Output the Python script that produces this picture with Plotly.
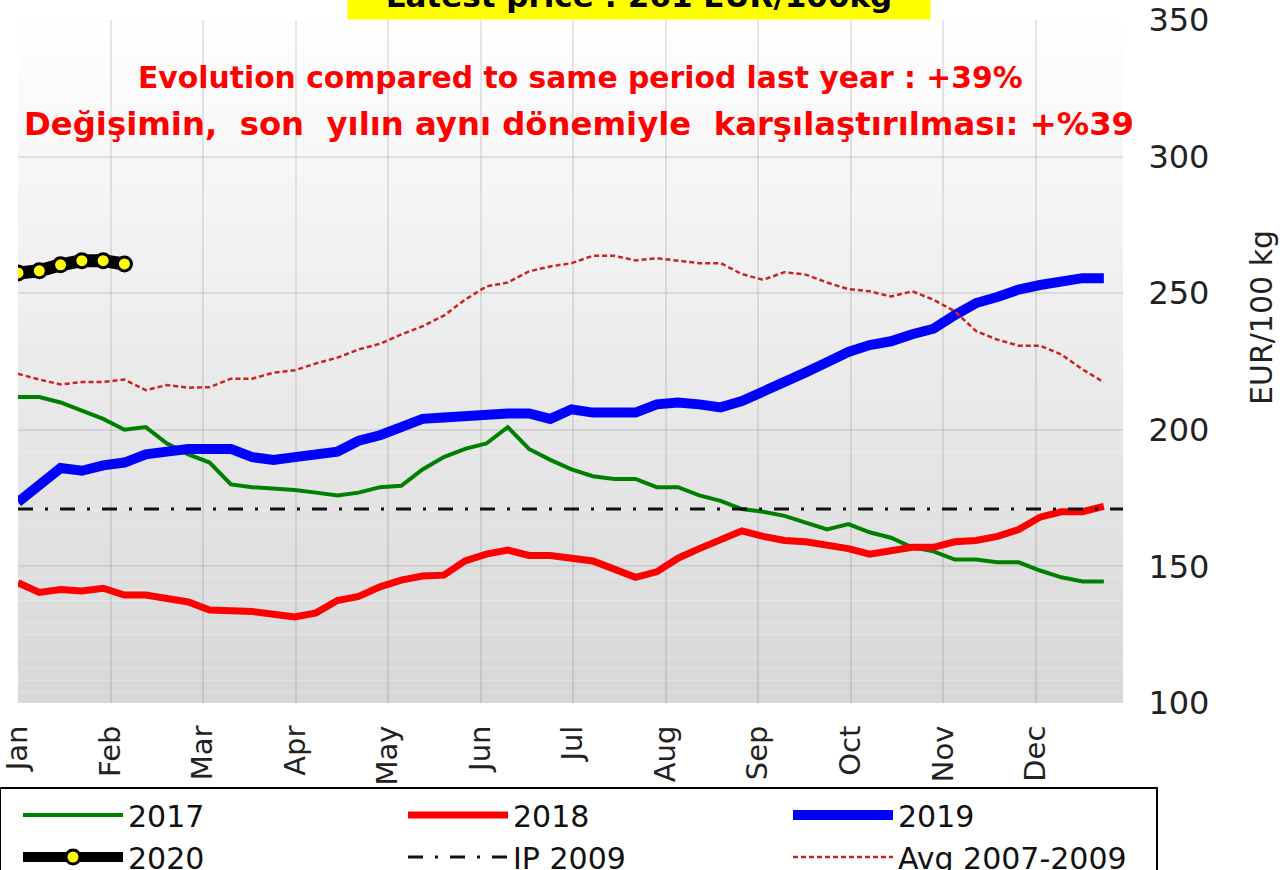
import plotly.graph_objects as go

# ---------------- data ----------------
weeks = list(range(1, 53))
month_labels = ["Jan", "Feb", "Mar", "Apr", "May", "Jun",
                "Jul", "Aug", "Sep", "Oct", "Nov", "Dec"]
month_ticks = [1, 5.35, 9.69, 14.04, 18.38, 22.73, 27.07, 31.42, 35.76, 40.11, 44.45, 48.8]
y_ticks = [100, 150, 200, 250, 300, 350]

s2017 = [212, 212, 210, 207, 204, 200, 201, 195, 191, 188, 180, 179, 178.5,
         178, 177, 176, 177, 179, 179.5, 185.5, 190, 193, 195, 201, 193, 189,
         185.5, 183, 182, 182, 179, 179, 176, 174, 171, 170, 168.5, 166, 163.5,
         165.5, 162.5, 160.5, 157, 155.5, 152.5, 152.5, 151.5, 151.5, 148.5, 146, 144.5, 144.5]
s2018 = [144, 140.5, 141.5, 141, 142, 139.5, 139.5, 138, 137, 134, 134, 133.5, 132.5,
         131.5, 133, 137.5, 139, 142.5, 145, 146.5, 146.8, 152, 154.5, 156, 154, 154,
         153, 152, 149, 146, 148, 153, 156.5, 159.5, 163, 161, 159.5, 159, 158,
         156.5, 154.5, 156, 157, 157, 159, 159.5, 161, 163.5, 168, 170, 170, 172]
s2019 = [173.5, 180, 186, 185, 187, 188, 191, 192, 193, 193, 193, 190, 189,
         190, 191, 192, 196, 198, 201, 204, 204.5, 205.3, 206, 206, 206, 204,
         207.5, 206.3, 206.3, 206.3, 209.3, 210, 209.3, 208.2, 210.5, 213.8, 217, 221, 224.7,
         228.5, 231, 232.4, 235, 237, 242, 246.4, 248.6, 251.3, 253, 254, 255.5, 255.5]
s2020 = [257.4, 258.2, 260.4, 261.9, 261.9, 260.7]
ip2009 = 171
avg0709 = [220.5, 218.4, 216.6, 217.5, 217.5, 218.4, 214.5, 216.4, 215.4, 215.6, 218.7, 218.7, 220.9,
           221.8, 224.3, 226.4, 229.4, 231.5, 234.9, 237.9, 241.8, 247.6, 252.5, 253.9, 258, 259.8,
           261, 263.7, 263.7, 262, 262.8, 262, 261, 261, 257, 254.9, 257.7, 256.8, 253.9,
           251.5, 250.7, 248.8, 250.7, 247.6, 243.4, 236.1, 233, 230.8, 230.8, 227.6, 222.1, 217.4]

x_range = [1, 52.9]
y_range = [100, 350]

# ---------------- figure ----------------
fig = go.Figure()
fig.add_trace(go.Scatter(x=weeks, y=s2017, name="2017", mode="lines", legendrank=1,
                         line=dict(color="#008000", width=4)))
fig.add_trace(go.Scatter(x=weeks, y=s2018, name="2018", mode="lines", legendrank=2,
                         line=dict(color="#ff0000", width=7)))
fig.add_trace(go.Scatter(x=weeks, y=s2019, name="2019", mode="lines", legendrank=3,
                         line=dict(color="#0000ff", width=10)))
fig.add_trace(go.Scatter(x=weeks, y=avg0709, name="Avg 2007-2009", mode="lines", legendrank=6,
                         line=dict(color="#cc2222", width=2.5, dash="5px,3px")))
fig.add_trace(go.Scatter(x=x_range, y=[ip2009, ip2009], name="IP 2009", mode="lines", legendrank=5,
                         line=dict(color="#111111", width=3, dash="15px,12px,3px,12px")))
fig.add_trace(go.Scatter(x=weeks[:len(s2020)], y=s2020, name="2020", mode="lines+markers", legendrank=4,
                         line=dict(color="black", width=13),
                         marker=dict(color="#ffff00", size=14, line=dict(color="black", width=3))))

# gradient background of plot area
n_steps = 60
shapes = []
for i in range(n_steps):
    y0 = y_range[0] + (y_range[1] - y_range[0]) * i / n_steps
    y1 = y_range[0] + (y_range[1] - y_range[0]) * (i + 1) / n_steps
    g = int(216 + (255 - 216) * (i + 0.5) / n_steps)
    shapes.append(dict(type="rect", xref="paper", yref="y", x0=0, x1=1, y0=y0, y1=y1,
                       fillcolor=f"rgb({g},{g},{g})", line=dict(width=0), layer="below"))

L, R, T, B = 18, 161, 20, 167
W, H = 1284, 870
pw, ph = W - L - R, H - T - B

grid_col = "rgba(0,0,0,0.09)"
fig.update_layout(
    width=W, height=H,
    margin=dict(l=L, r=R, t=T, b=B, autoexpand=False),
    paper_bgcolor="white", plot_bgcolor="white",
    hovermode=False,
    shapes=shapes,
    font=dict(family="DejaVu Sans", color="#222222"),
    xaxis=dict(range=x_range, tickvals=month_ticks, ticktext=month_labels, tickangle=-90,
               tickfont=dict(size=29, family="DejaVu Sans", color="#222222"),
               showgrid=True, gridcolor=grid_col, gridwidth=2, zeroline=False, showline=False,
               ticks="outside", ticklen=10, tickcolor="rgba(0,0,0,0)"),
    yaxis=dict(range=y_range, tickvals=y_ticks, side="right",
               tickfont=dict(size=32, family="DejaVu Sans", color="#222222"),
               showgrid=True, gridcolor=grid_col, gridwidth=2, zeroline=False, showline=False,
               ticks="outside", ticklen=18, tickcolor="rgba(0,0,0,0)"),
    legend=dict(orientation="h", xref="paper", yref="paper",
                x=(1158 - L) / pw, y=-(787 - (H - B)) / ph,
                xanchor="right", yanchor="top", bgcolor="white", bordercolor="black", borderwidth=2,
                font=dict(family="DejaVu Sans", size=30, color="#111111"),
                entrywidth=253, entrywidthmode="pixels", itemwidth=100, indentation=17,
                tracegroupgap=0),
    annotations=[
        dict(text="<b>Latest price : 261 EUR/100kg</b>", xref="paper", yref="paper",
             x=(639 - L) / pw, y=1, xanchor="center", yanchor="bottom", yshift=0,
             showarrow=False, bgcolor="#ffff00", width=572, borderpad=5,
             font=dict(family="DejaVu Sans", size=31, color="black")),
        dict(text="<b>Evolution compared to same period last year : +39%</b>", xref="paper", yref="paper",
             x=(580 - L) / pw, y=(H - B - 77) / ph, xanchor="center", yanchor="middle",
             showarrow=False, font=dict(family="DejaVu Sans", size=29.8, color="#ff0000")),
        dict(text="<b>Değişimin,\u00a0 son\u00a0 yılın aynı dönemiyle\u00a0 karşılaştırılması: +%39</b>",
             xref="paper", yref="paper",
             x=(579 - L) / pw, y=(H - B - 124) / ph, xanchor="center", yanchor="middle",
             showarrow=False, font=dict(family="DejaVu Sans", size=32.3, color="#ff0000")),
        dict(text="EUR/100 kg", xref="paper", yref="paper", textangle=-90,
             x=(1262 - L) / pw, y=(H - B - 318) / ph, xanchor="center", yanchor="middle",
             showarrow=False, font=dict(family="DejaVu Sans", size=30, color="#222222")),
    ],
)

fig.write_html("out.html", config={"displayModeBar": False},
               post_script="document.body.style.margin='0';")
